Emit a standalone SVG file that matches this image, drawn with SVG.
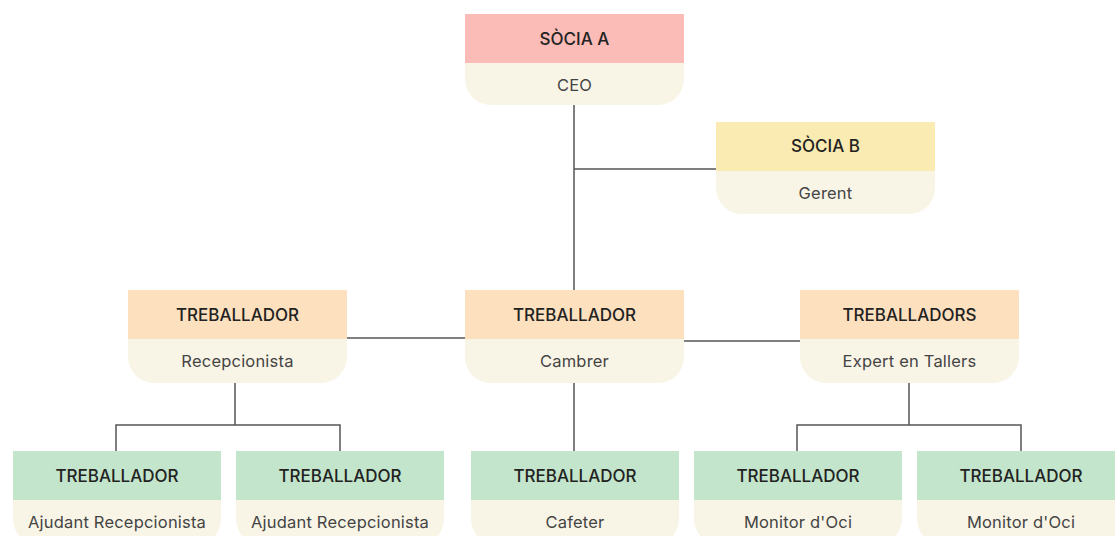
<svg xmlns="http://www.w3.org/2000/svg" width="1115" height="536" viewBox="0 0 1115 536">
<style>
.body{fill:#F9F5E6}
.pink{fill:#FBBBB6}
.yel{fill:#F9EBB1}
.org{fill:#FDE0BE}
.grn{fill:#C3E5CB}
.h{font-family:Inter,"Noto Sans",sans-serif;font-size:17px;font-weight:500;fill:#222;text-anchor:middle}
.s{font-family:Inter,"Noto Sans",sans-serif;font-size:16.5px;letter-spacing:0.2px;fill:#444;text-anchor:middle}
.c{stroke:#555;stroke-width:1.5;fill:none}
</style>
<rect width="1115" height="536" fill="#fff"/>
<g id="connectors">
<path class="c" d="M574 105V290M574 169H716"/>
<path class="c" d="M347 338H465M684 341H800"/>
<path class="c" d="M235 383V425M116 451V425H340V451"/>
<path class="c" d="M574 383V451"/>
<path class="c" d="M909 383V425M797 451V425H1021V451"/>
</g>
<g id="sociaA">
<path class="body" d="M465 63H684V79A26 26 0 0 1 658 105H491A26 26 0 0 1 465 79Z"/>
<rect class="pink" x="465" y="14" width="219" height="49"/>
<text class="h" x="574.5" y="45">SÒCIA A</text>
<text class="s" x="574.5" y="91">CEO</text>
</g>
<g id="sociaB">
<path class="body" d="M716 171H935V188A26 26 0 0 1 909 214H742A26 26 0 0 1 716 188Z"/>
<rect class="yel" x="716" y="122" width="219" height="49"/>
<text class="h" x="825.5" y="152">SÒCIA B</text>
<text class="s" x="825.5" y="199">Gerent</text>
</g>
<g id="recepcionista">
<path class="body" d="M128 339H347V357A26 26 0 0 1 321 383H154A26 26 0 0 1 128 357Z"/>
<rect class="org" x="128" y="290" width="219" height="49"/>
<text class="h" x="237.5" y="321">TREBALLADOR</text>
<text class="s" x="237.5" y="367">Recepcionista</text>
</g>
<g id="cambrer">
<path class="body" d="M465 339H684V357A26 26 0 0 1 658 383H491A26 26 0 0 1 465 357Z"/>
<rect class="org" x="465" y="290" width="219" height="49"/>
<text class="h" x="574.5" y="321">TREBALLADOR</text>
<text class="s" x="574.5" y="367">Cambrer</text>
</g>
<g id="expert">
<path class="body" d="M800 339H1019V357A26 26 0 0 1 993 383H826A26 26 0 0 1 800 357Z"/>
<rect class="org" x="800" y="290" width="219" height="49"/>
<text class="h" x="909.5" y="321">TREBALLADORS</text>
<text class="s" x="909.5" y="367">Expert en Tallers</text>
</g>
<g id="ajudant1">
<path class="body" d="M13 500H221V519A26 26 0 0 1 195 545H39A26 26 0 0 1 13 519Z"/>
<rect class="grn" x="13" y="451" width="208" height="49"/>
<text class="h" x="117" y="482">TREBALLADOR</text>
<text class="s" x="117" y="528">Ajudant Recepcionista</text>
</g>
<g id="ajudant2">
<path class="body" d="M236 500H444V519A26 26 0 0 1 418 545H262A26 26 0 0 1 236 519Z"/>
<rect class="grn" x="236" y="451" width="208" height="49"/>
<text class="h" x="340" y="482">TREBALLADOR</text>
<text class="s" x="340" y="528">Ajudant Recepcionista</text>
</g>
<g id="cafeter">
<path class="body" d="M471 500H679V519A26 26 0 0 1 653 545H497A26 26 0 0 1 471 519Z"/>
<rect class="grn" x="471" y="451" width="208" height="49"/>
<text class="h" x="575" y="482">TREBALLADOR</text>
<text class="s" x="575" y="528">Cafeter</text>
</g>
<g id="monitor1">
<path class="body" d="M694 500H902V519A26 26 0 0 1 876 545H720A26 26 0 0 1 694 519Z"/>
<rect class="grn" x="694" y="451" width="208" height="49"/>
<text class="h" x="798" y="482">TREBALLADOR</text>
<text class="s" x="798" y="528">Monitor d'Oci</text>
</g>
<g id="monitor2">
<path class="body" d="M917 500H1125V519A26 26 0 0 1 1099 545H943A26 26 0 0 1 917 519Z"/>
<rect class="grn" x="917" y="451" width="208" height="49"/>
<text class="h" x="1021" y="482">TREBALLADOR</text>
<text class="s" x="1021" y="528">Monitor d'Oci</text>
</g>
</svg>
